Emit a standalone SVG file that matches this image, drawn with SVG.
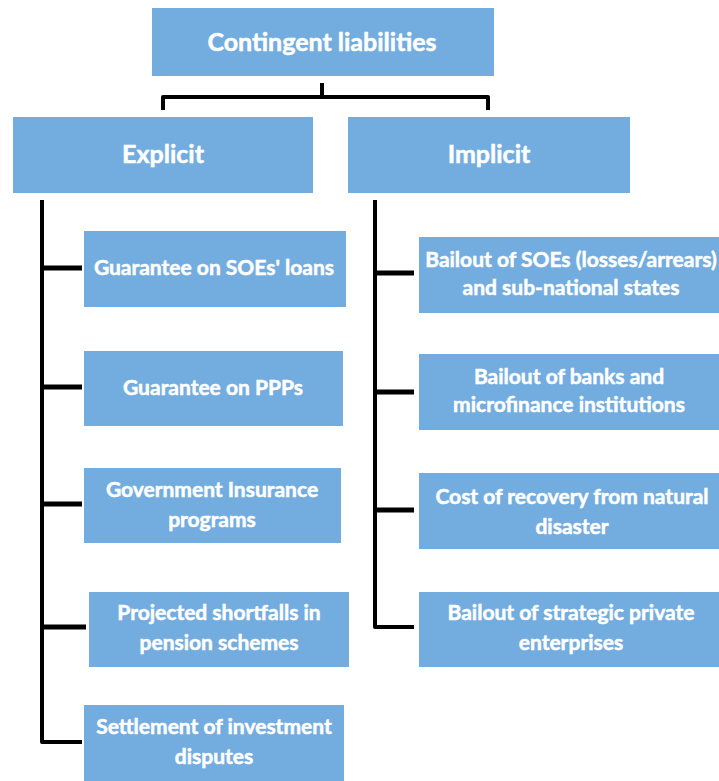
<svg xmlns="http://www.w3.org/2000/svg" width="719" height="781" viewBox="0 0 719 781">
<style>
.box{fill:#73ADE0}
.t{fill:#ffffff;stroke:#ffffff;stroke-width:0.5;font-family:Lato,"Open Sans","Liberation Sans",sans-serif;font-weight:700;text-anchor:middle}
.h{font-size:25px}
.b{font-size:21px}
.ln{stroke:#000;stroke-width:4;fill:none;stroke-linejoin:round;stroke-linecap:butt}
.tk{stroke:#000;stroke-width:5;fill:none}
</style>
<rect width="719" height="781" fill="#ffffff"/>
<g id="connectors">
<path class="ln" d="M322 83 V97 M163 110 V97 H488 V110"/>
<path class="ln" d="M42 200 V742 H82"/>
<path class="tk" d="M42 268 H82 M42 387 H82 M42 504 H82 M42 627 H86"/>
<path class="ln" d="M375 200 V627 H414"/>
<path class="tk" d="M375 273 H414 M375 392 H414 M375 510 H414"/>
</g>
<g id="root"><rect class="box" x="152" y="8" width="342" height="68"/><text class="t h" x="322" y="51">Contingent liabilities</text></g>
<g id="explicit"><rect class="box" x="13" y="117" width="300" height="76"/><text class="t h" x="163" y="163">Explicit</text></g>
<g id="implicit"><rect class="box" x="348" y="117" width="282" height="76"/><text class="t h" x="489" y="163">Implicit</text></g>
<g id="e1"><rect class="box" x="84" y="231" width="262" height="76"/><text class="t b" x="214" y="275">Guarantee on SOEs' loans</text></g>
<g id="e2"><rect class="box" x="84" y="351" width="259" height="75"/><text class="t b" x="213" y="395">Guarantee on PPPs</text></g>
<g id="e3"><rect class="box" x="84" y="468" width="257" height="75"/><text class="t b" x="212" y="497">Government Insurance</text><text class="t b" x="212" y="527">programs</text></g>
<g id="e4"><rect class="box" x="89" y="592" width="260" height="75"/><text class="t b" x="219" y="620">Projected shortfalls in</text><text class="t b" x="219" y="650">pension schemes</text></g>
<g id="e5"><rect class="box" x="84" y="705" width="260" height="76"/><text class="t b" x="214" y="734">Settlement of investment</text><text class="t b" x="214" y="764">disputes</text></g>
<g id="i1"><rect class="box" x="419" y="237" width="300" height="76"/><text class="t b" x="571" y="267">Bailout of SOEs (losses/arrears)</text><text class="t b" x="571" y="295">and sub-national states</text></g>
<g id="i2"><rect class="box" x="419" y="354" width="300" height="76"/><text class="t b" x="569" y="384">Bailout of banks and</text><text class="t b" x="569" y="412">microfinance institutions</text></g>
<g id="i3"><rect class="box" x="419" y="473" width="300" height="76"/><text class="t b" x="572" y="504">Cost of recovery from natural</text><text class="t b" x="572" y="534">disaster</text></g>
<g id="i4"><rect class="box" x="419" y="592" width="300" height="75"/><text class="t b" x="571" y="620">Bailout of strategic private</text><text class="t b" x="571" y="650">enterprises</text></g>
</svg>
